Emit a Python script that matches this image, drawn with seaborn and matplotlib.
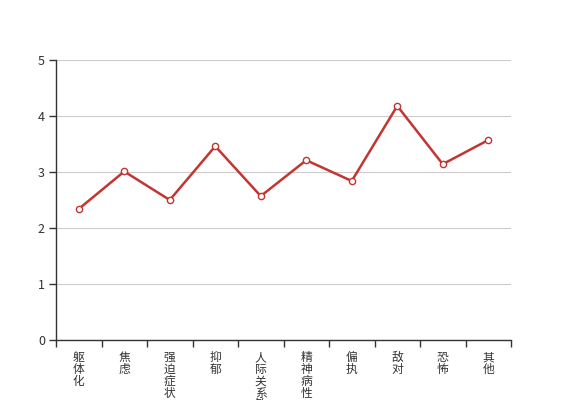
import numpy as np
import pandas as pd
import matplotlib
matplotlib.use('Agg')
import matplotlib.pyplot as plt
import seaborn as sns

# data
categories = ['躯体化', '焦虑', '强迫症状', '抑郁', '人际关系敏感',
              '精神病性', '偏执', '敌对', '恐怖', '其他']
scores = [2.34, 3.01, 2.50, 3.46, 2.57, 3.21, 2.84, 4.18, 3.14, 3.57]
y_ticks = [0, 1, 2, 3, 4, 5]

sns.set_theme(style='white')
plt.rcParams['font.family'] = ['Noto Sans CJK SC', 'DejaVu Sans']

df = pd.DataFrame({'pos': np.arange(len(categories)), 'score': scores})

fig = plt.figure(figsize=(5.67, 4.0), dpi=100)
ax = fig.add_axes([56 / 567, 60 / 400, 455 / 567, 280 / 400])

sns.lineplot(data=df, x='pos', y='score', ax=ax, color='#c23531',
             linewidth=1.8, marker='o', markersize=4.5,
             markerfacecolor='white', markeredgecolor='#c23531',
             markeredgewidth=1.0, zorder=3)

ax.set_xlim(-0.5, len(categories) - 0.5)
ax.set_ylim(0, 5)
ax.set_yticks(y_ticks)
ax.set_yticklabels([str(t) for t in y_ticks], fontsize=9, color='#333333')
ax.yaxis.grid(True, color='#cccccc', linewidth=0.8)
ax.set_axisbelow(True)

# boundary ticks, labels centered on categories
ax.set_xticks(np.arange(len(categories) + 1) - 0.5)
ax.set_xticklabels([])
ax.set_xticks(np.arange(len(categories)), minor=True)
ax.set_xticklabels(['\n'.join(c) for c in categories], minor=True,
                   fontsize=8.5, color='#333333', va='top', linespacing=0.88)
ax.tick_params(axis='x', which='minor', length=0, pad=8)
ax.tick_params(axis='x', which='major', length=5, width=1, color='#333333',
               direction='out', bottom=True)
ax.tick_params(axis='y', length=5, width=1, color='#333333',
               direction='out', left=True, pad=3)

ax.set_xlabel('')
ax.set_ylabel('')
sns.despine(ax=ax)
for s in ['left', 'bottom']:
    ax.spines[s].set_color('#333333')
    ax.spines[s].set_linewidth(1)

fig.savefig('out.png', dpi=100)
